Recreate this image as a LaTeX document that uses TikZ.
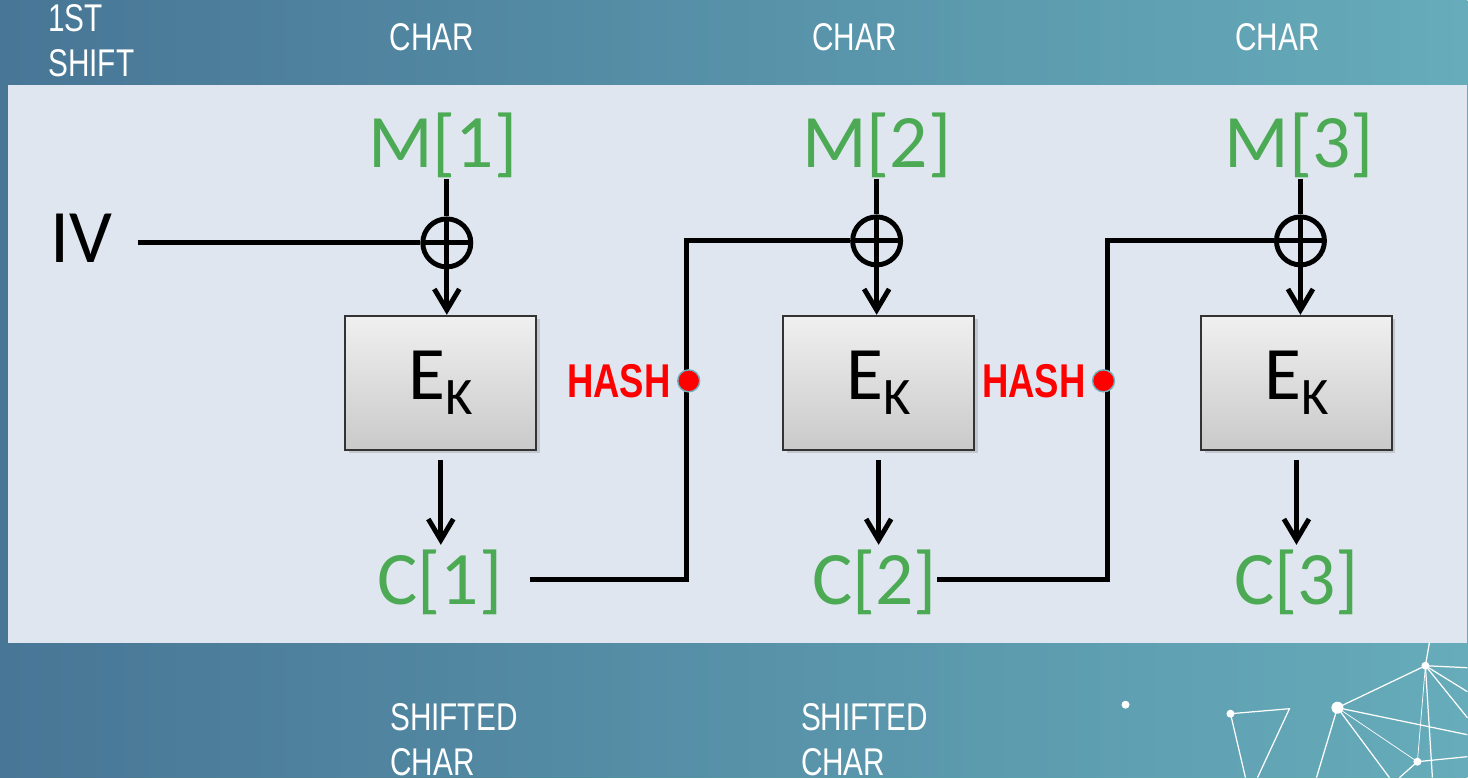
\documentclass[tikz,border=0pt]{standalone}
\usepackage{fontspec}
\setmainfont{Carlito}
\newfontfamily\condfont[FakeStretch=0.77]{Liberation Sans}
\usepackage{xcolor}
\usetikzlibrary{positioning, arrows.meta, shadows}

\definecolor{fundoesq}{RGB}{72,118,150}
\definecolor{fundodir}{RGB}{102,172,186}
\definecolor{painel}{RGB}{223,230,240}
\definecolor{verde}{RGB}{76,170,84}
\definecolor{contorno}{RGB}{110,178,192}

\begin{document}
\begin{tikzpicture}[x=0.2mm, y=-0.2mm,
  rotulo/.style={text=white, inner sep=0pt, font=\condfont\fontsize{22}{25.6}\selectfont, align=left},
  msg/.style={text=verde, inner sep=0pt, anchor=base, font=\fontsize{43}{43}\selectfont},
  caixa/.style={draw=black!80, line width=1.2pt, top color=gray!12, bottom color=gray!42,
    minimum width=3.82cm, minimum height=2.68cm, inner sep=0pt,
    drop shadow={opacity=0.3, shadow xshift=2pt, shadow yshift=-2pt},
    font=\fontsize{43}{43}\selectfont},
  xor/.style={circle, draw, line width=2.8pt, minimum size=0.96cm, inner sep=0pt,
    path picture={\draw[line width=2.8pt] (path picture bounding box.north) -- (path picture bounding box.south)
      (path picture bounding box.west) -- (path picture bounding box.east);}},
  linha/.style={line width=2.8pt},
  seta/.style={line width=2.8pt, -{Straight Barb[length=0.42cm, width=0.5cm]}},
  ponto/.style={circle, fill=red, draw=contorno, line width=0.8pt, minimum size=0.44cm, inner sep=0pt},
  hash/.style={text=red, inner sep=0pt, font=\condfont\bfseries\fontsize{27}{27}\selectfont}
]

% Fundo
\shade[left color=fundoesq, right color=fundodir] (0,0) rectangle (1468,778);
\fill[painel] (8,85) rectangle (1468,643);

% Rotulos de cima
\node[rotulo, anchor=west] (shift) at (48,41) {1ST\\SHIFT};
\node[rotulo] (char1) at (432,37) {CHAR};
\node[rotulo] (char2) at (855,37) {CHAR};
\node[rotulo] (char3) at (1278,37) {CHAR};

% Rotulos de baixo
\node[rotulo, anchor=west] (sc1) at (390,740) {SHIFTED\\CHAR};
\node[rotulo, anchor=west] (sc2) at (801,740) {SHIFTED\\CHAR};

% Mensagens
\node[msg] (m1) at (443,168) {M[1]};
\node[msg] (m2) at (877,168) {M[2]};
\node[msg] (m3) at (1300,168) {M[3]};
\node[msg, text=black, anchor=base west] (iv) at (50,263) {IV};

% XOR
\node[xor] (x1) at (447,243) {};
\node[xor] (x2) at (877,241) {};
\node[xor] (x3) at (1301,241) {};

% Caixas de cifra
\node[caixa] (e1) at (441,383) {E\raisebox{-8.5pt}{\fontsize{30}{30}\selectfont K}};
\node[caixa] (e2) at (879,383) {E\raisebox{-8.5pt}{\fontsize{30}{30}\selectfont K}};
\node[caixa] (e3) at (1297,383) {E\raisebox{-8.5pt}{\fontsize{30}{30}\selectfont K}};

% Textos cifrados
\node[msg] (c1) at (440,605) {C[1]};
\node[msg] (c2) at (875,605) {C[2]};
\node[msg] (c3) at (1297,605) {C[3]};

% Ligacoes
\draw[linha] (x1 |- m1.south) -- (x1.north);
\draw[linha] (x2 |- m2.south) -- (x2.north);
\draw[linha] (x3 |- m3.south) -- (x3.north);
\draw[linha, shorten <=0.5cm] (iv.east |- x1) -- (x1.west);
\draw[seta] (x1.south) -- (x1 |- e1.north);
\draw[seta] (x2.south) -- (x2 |- e2.north);
\draw[seta] (x3.south) -- (x3 |- e3.north);
\draw[seta, shorten <=0.18cm, shorten >=0.1cm] (e1.south) -- (e1.south |- c1.north);
\draw[seta, shorten <=0.18cm, shorten >=0.1cm] (e2.south) -- (e2.south |- c2.north);
\draw[seta, shorten <=0.18cm, shorten >=0.1cm] (e3.south) -- (e3.south |- c3.north);

% Encadeamento
\coordinate (k1) at (687,580);
\coordinate (k2) at (1108,580);
\draw[linha, shorten <=0.54cm] (c1.east |- k1) -- (k1) |- (x2.west);
\draw[linha] (c2.east |- k2) -- (k2) |- (x3.west);

% Pontos HASH
\node[ponto] (h1) at (689,381) {};
\node[hash, left=0.12cm of h1] (t1) {HASH};
\node[ponto] (h2) at (1104,381) {};
\node[hash, left=0.12cm of h2] (t2) {HASH};

% Rede decorativa
\begin{scope}[white, line width=0.7pt]
\draw (1231,714) -- (1290,709) -- (1258,778);
\draw (1231,714) -- (1246,778);
\draw (1338,708) -- (1426,666);
\draw (1338,708) -- (1468,735);
\draw[line width=0.4pt] (1338,708) -- (1418,762);
\draw (1338,708) -- (1390,778);
\draw (1338,708) -- (1317,778);
\draw (1426,666) -- (1430,643);
\draw (1426,666) -- (1468,668);
\draw (1426,666) -- (1468,692);
\draw (1426,666) -- (1468,718);
\draw (1426,666) -- (1433,778);
\draw[line width=0.4pt] (1426,666) -- (1418,762);
\draw (1418,762) -- (1468,757);
\draw (1418,762) -- (1400,778);
\fill (1126,705) circle[radius=4];
\fill (1231,714) circle[radius=4];
\fill (1338,708) circle[radius=6];
\fill (1426,666) circle[radius=4];
\fill (1418,762) circle[radius=4];
\end{scope}

\end{tikzpicture}
\end{document}
